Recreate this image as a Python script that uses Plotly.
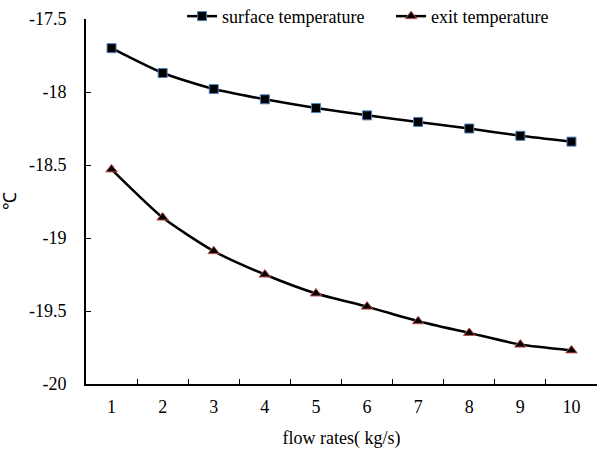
import plotly.graph_objects as go

flow_rates = ["1", "2", "3", "4", "5", "6", "7", "8", "9", "10"]
surface_temperature = [-17.70, -17.87, -17.98, -18.05, -18.11, -18.16, -18.205, -18.25, -18.30, -18.34]
exit_temperature = [-18.53, -18.86, -19.09, -19.25, -19.38, -19.47, -19.57, -19.65, -19.73, -19.77]
y_tick_values = [-20, -19.5, -19, -18.5, -18, -17.5]
y_tick_labels = ["-20", "-19.5", "-19", "-18.5", "-18", "-17.5"]

FONT = "Liberation Serif"
FS = 18

fig = go.Figure()
fig.add_trace(go.Scatter(
    x=flow_rates, y=surface_temperature, name="surface temperature",
    mode="lines+markers",
    line=dict(color="black", width=2.5, shape="spline", smoothing=0.6),
    marker=dict(symbol="square", size=9, color="black",
                line=dict(color="#4F81BD", width=1)),
))
fig.add_trace(go.Scatter(
    x=flow_rates, y=exit_temperature, name="exit temperature",
    mode="lines+markers",
    line=dict(color="black", width=2.5, shape="spline", smoothing=0.6),
    marker=dict(symbol="triangle-up", size=10, color="black",
                line=dict(color="#C0504D", width=1)),
))

fig.update_layout(
    width=597, height=449,
    margin=dict(l=86, r=0, t=19, b=65, autoexpand=False),
    paper_bgcolor="white", plot_bgcolor="white",
    font=dict(family=FONT, size=FS, color="black"),
    legend=dict(orientation="h", x=0.188, xanchor="left", y=1.007, yanchor="middle",
                font=dict(family=FONT, size=FS), entrywidth=164,
                bgcolor="rgba(0,0,0,0)", traceorder="normal"),
    showlegend=True,
)
fig.update_xaxes(
    type="category", range=[-0.5, 9.5],
    showline=True, linecolor="black", linewidth=2,
    ticks="inside", tickson="boundaries", ticklen=5, tickcolor="black", tickwidth=1,
    showgrid=False, zeroline=False,
    tickfont=dict(family=FONT, size=FS),
    ticklabelstandoff=5,
    title=dict(text="flow rates( kg/s)", font=dict(family=FONT, size=FS), standoff=22),
)
fig.update_yaxes(
    range=[-20, -17.5],
    tickvals=y_tick_values, ticktext=y_tick_labels,
    showline=True, linecolor="black", linewidth=2,
    ticks="inside", ticklen=5, tickcolor="black", tickwidth=1,
    showgrid=False, zeroline=False,
    tickfont=dict(family=FONT, size=FS),
    ticklabelstandoff=14,
    title=dict(text="℃", font=dict(family=FONT, size=FS), standoff=17),
)

fig.write_html("out.html")
